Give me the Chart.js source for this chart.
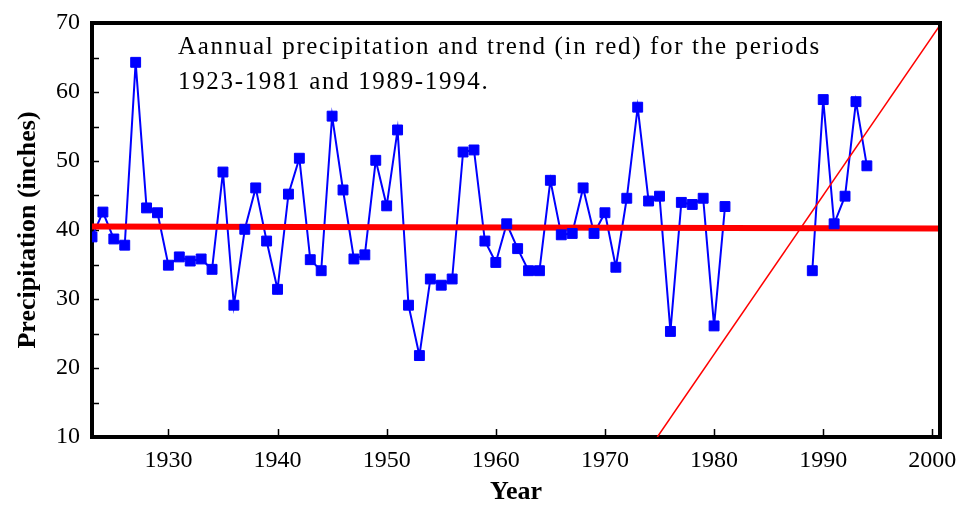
<!DOCTYPE html>
<html>
<head>
<meta charset="utf-8">
<script src="https://cdn.jsdelivr.net/npm/chart.js@4.4.1/dist/chart.umd.min.js"></script>
<style>
  html, body { margin: 0; padding: 0; background: #fff; }
  #wrap { width: 956px; height: 510px; }
</style>
</head>
<body>
<div id="wrap"><canvas id="precipChart"></canvas></div>
<script>
// Annual precipitation (inches), two observation periods
const yearsEarly = [1923, 1924, 1925, 1926, 1927, 1928, 1929, 1930, 1931, 1932,
                    1933, 1934, 1935, 1936, 1937, 1938, 1939, 1940, 1941, 1942,
                    1943, 1944, 1945, 1946, 1947, 1948, 1949, 1950, 1951, 1952,
                    1953, 1954, 1955, 1956, 1957, 1958, 1959, 1960, 1961, 1962,
                    1963, 1964, 1965, 1966, 1967, 1968, 1969, 1970, 1971, 1972,
                    1973, 1974, 1975, 1976, 1977, 1978, 1979, 1980, 1981];
const precipEarly = [39.0, 42.6, 38.7, 37.8, 64.3, 43.2, 42.5, 34.9, 36.1, 35.5,
                     35.8, 34.3, 48.4, 29.1, 40.1, 46.1, 38.4, 31.4, 45.2, 50.4,
                     35.7, 34.1, 56.5, 45.8, 35.8, 36.4, 50.1, 43.5, 54.5, 29.1,
                     21.8, 32.9, 32.0, 32.9, 51.3, 51.6, 38.4, 35.3, 40.9, 37.3,
                     34.1, 34.1, 47.2, 39.3, 39.5, 46.1, 39.5, 42.5, 34.6, 44.6,
                     57.8, 44.2, 44.9, 25.3, 44.0, 43.7, 44.6, 26.1, 43.4];
const yearsLate = [1989, 1990, 1991, 1992, 1993, 1994];
const precipLate = [34.1, 58.9, 40.9, 44.9, 58.6, 49.3];

// trend lines (endpoints)
const trendLongYears = [1923, 2000.7];
const trendLongValues = [40.5, 40.2];
const trendShortYears = [1974.8, 2000.7];
const trendShortValues = [10, 69.7];

// axes
const yearTicks = [1930, 1940, 1950, 1960, 1970, 1980, 1990, 2000];
const precipTicks = [10, 20, 30, 40, 50, 60, 70];
const precipMinorTicks = [15, 25, 35, 45, 55, 65];

const captionLines = ['Aannual precipitation and trend (in red) for the periods',
                      '1923-1981 and 1989-1994.'];

function toPoints(xs, ys) {
    return xs.map((x, i) => ({ x: x, y: ys[i] }));
}

const BLUE = '#0000ff';
const RED = '#ff0000';
const SERIF = '"Liberation Serif", "DejaVu Serif", serif';

// frame on top/right, inward tick marks, caption text
const framePlugin = {
    id: 'frame',
    beforeDatasetsDraw(chart) {
        const ctx = chart.ctx;
        const area = chart.chartArea;
        const xs = chart.scales.x;
        const ys = chart.scales.y;
        ctx.save();
        ctx.strokeStyle = '#000';
        ctx.lineWidth = 1.5;
        ctx.beginPath();
        yearTicks.forEach(v => {
            const px = Math.round(xs.getPixelForValue(v)) + 0.5;
            ctx.moveTo(px, area.bottom);
            ctx.lineTo(px, area.bottom - 8);
        });
        precipTicks.concat(precipMinorTicks).forEach(v => {
            const py = Math.round(ys.getPixelForValue(v)) + 0.5;
            ctx.moveTo(area.left, py);
            ctx.lineTo(area.left + 7, py);
        });
        ctx.stroke();

        // caption, spaced out a little to fill its line
        ctx.fillStyle = '#000';
        ctx.font = '25px ' + SERIF;
        ctx.textBaseline = 'alphabetic';
        const plain = ctx.measureText(captionLines[0]).width;
        const spacing = Math.max(0, (641 - plain) / (captionLines[0].length - 1));
        ctx.letterSpacing = spacing.toFixed(2) + 'px';
        ctx.fillText(captionLines[0], area.left + 86, area.top + 31);
        ctx.fillText(captionLines[1], area.left + 86, area.top + 66);
        ctx.restore();
    },
    afterDraw(chart) {
        const ctx = chart.ctx;
        const area = chart.chartArea;
        ctx.save();
        ctx.strokeStyle = '#000';
        ctx.lineWidth = 4;
        ctx.lineCap = 'square';
        ctx.beginPath();
        ctx.moveTo(area.left, area.top);
        ctx.lineTo(area.right, area.top);
        ctx.lineTo(area.right, area.bottom);
        ctx.stroke();
        ctx.restore();
    }
};

const ctx = document.getElementById('precipChart').getContext('2d');
const precipChart = new Chart(ctx, {
    type: 'line',
    data: {
        datasets: [
            {
                // connecting lines
                data: toPoints(yearsEarly, precipEarly),
                borderColor: BLUE,
                borderWidth: 2,
                pointRadius: 0,
                order: 5
            },
            {
                data: toPoints(yearsLate, precipLate),
                borderColor: BLUE,
                borderWidth: 2,
                pointRadius: 0,
                order: 5
            },
            {
                data: toPoints(trendLongYears, trendLongValues),
                borderColor: RED,
                borderWidth: 6,
                pointRadius: 0,
                order: 4
            },
            {
                // square markers
                data: toPoints(yearsEarly, precipEarly).concat(toPoints(yearsLate, precipLate)),
                showLine: false,
                pointStyle: 'rect',
                pointRadius: 7,
                pointBorderWidth: 1,
                pointBackgroundColor: BLUE,
                pointBorderColor: BLUE,
                order: 3
            },
            {
                data: toPoints(trendShortYears, trendShortValues),
                borderColor: RED,
                borderWidth: 1.5,
                pointRadius: 0,
                order: 2
            }
        ]
    },
    options: {
        responsive: true,
        maintainAspectRatio: false,
        animation: false,
        layout: {
            padding: { top: 23, right: 16, left: 0, bottom: 0 }
        },
        plugins: {
            legend: { display: false },
            tooltip: { enabled: false }
        },
        scales: {
            x: {
                type: 'linear',
                min: 1923,
                max: 2000.7,
                afterBuildTicks: function(scale) {
                    scale.ticks = yearTicks.map(v => ({ value: v }));
                },
                afterFit: function(scale) {
                    scale.height = 73;
                    scale.paddingLeft = 0;
                    scale.paddingRight = 0;
                },
                grid: { display: false, drawTicks: false },
                border: { display: true, color: '#000', width: 4 },
                ticks: {
                    color: '#000',
                    font: { family: SERIF, size: 24 },
                    padding: 9,
                    maxRotation: 0,
                    autoSkip: false,
                    callback: function(value) { return String(value); }
                },
                title: {
                    display: true,
                    text: 'Year',
                    color: '#000',
                    font: { family: SERIF, size: 26, weight: 'bold' },
                    padding: { top: 0, bottom: 2 }
                }
            },
            y: {
                min: 10,
                max: 70,
                afterBuildTicks: function(scale) {
                    scale.ticks = precipTicks.map(v => ({ value: v }));
                },
                afterFit: function(scale) {
                    scale.width = 92;
                    scale.paddingTop = 0;
                    scale.paddingBottom = 0;
                },
                grid: { display: false, drawTicks: false },
                border: { display: true, color: '#000', width: 4 },
                ticks: {
                    color: '#000',
                    font: { family: SERIF, size: 24 },
                    padding: 12,
                    callback: function(value) { return String(value); }
                },
                title: {
                    display: true,
                    text: 'Precipitation (inches)',
                    color: '#000',
                    font: { family: SERIF, size: 26, weight: 'bold' },
                    padding: { top: 13, bottom: 0 }
                }
            }
        }
    },
    plugins: [framePlugin]
});
</script>
</body>
</html>
